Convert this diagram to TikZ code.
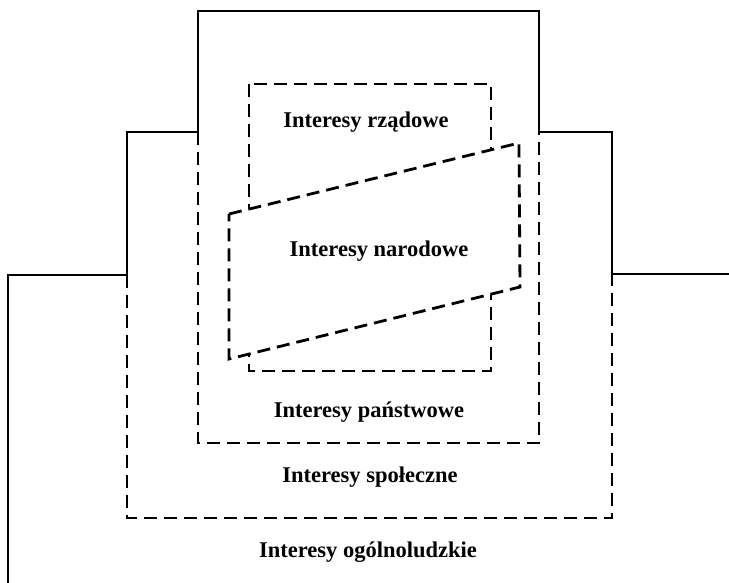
\documentclass[tikz,border=0pt]{standalone}
\usepackage{fontspec}
\setmainfont{Liberation Serif}
\begin{document}
\begin{tikzpicture}[x=1pt,y=-1pt,
  solidline/.style={line width=2.8pt,line join=miter,line cap=butt},
  dashline/.style={line width=2.8pt,dash pattern=on 13pt off 7pt,line join=miter},
  label/.style={font=\fontsize{22.5}{25}\selectfont\bfseries,anchor=base,inner sep=0pt}]
\useasboundingbox (0,0) rectangle (729,583);

% outermost frame (solid only)
\draw[solidline] (8,583) -- (8,275) -- (127,275);
\draw[solidline] (612,274) -- (729,274);

% second frame: solid above, dashed below
\draw[solidline] (127,275) -- (127,132) -- (198,132);
\draw[solidline] (539,132) -- (612,132) -- (612,274);
\draw[dashline] (127,275) -- (127,518) -- (612,518) -- (612,274);

% third frame: solid above, dashed below
\draw[solidline] (198,132) -- (198,11) -- (539,11) -- (539,132);
\draw[dashline] (198,132) -- (198,443) -- (539,443) -- (539,132);

% government rectangle
\draw[dashline] (249,84) rectangle (491,371);

% national parallelogram, covering the rectangle
\draw[dashline,fill=white] (229,214) -- (519,143) -- (520,287) -- (229,359) -- cycle;

% labels
\node[label] (rzad) at (366,128) {Interesy rządowe};
\node[label] (narod) at (379,256) {Interesy narodowe};
\node[label] (panst) at (369,417) {Interesy państwowe};
\node[label] (spol) at (370,482) {Interesy społeczne};
\node[label] (ogol) at (368,557) {Interesy ogólnoludzkie};
\end{tikzpicture}
\end{document}
